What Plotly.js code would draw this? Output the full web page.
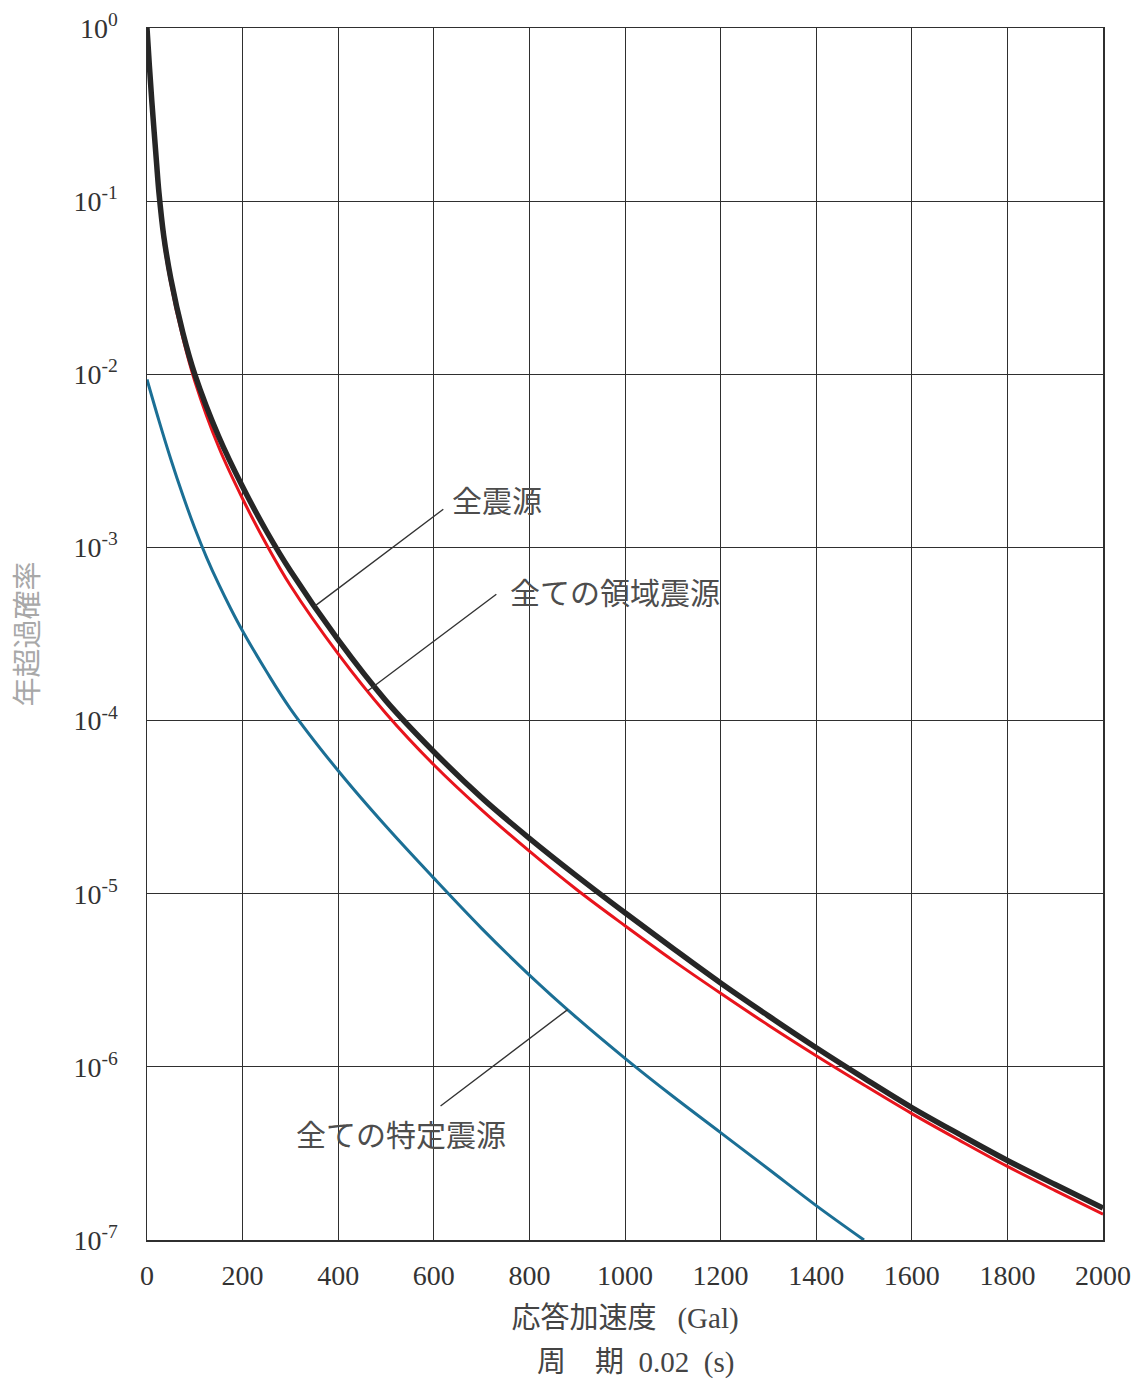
<!DOCTYPE html>
<html>
<head>
<meta charset="utf-8">
<script src="https://cdn.plot.ly/plotly-3.0.1.min.js"></script>
<style>
  html, body { margin: 0; padding: 0; background: #ffffff; }
  #chart { width: 1142px; height: 1385px; }
</style>
</head>
<body>
<div id="chart"></div>
<script>
// Annual exceedance probability vs. response acceleration (period 0.02 s)

// Acceleration (Gal) sample points
const accelAll = [0, 5, 10, 15, 20, 25, 35, 50, 75, 100, 150, 200, 250, 300, 400, 500,
  600, 700, 800, 900, 1000, 1100, 1200, 1300, 1400, 1500, 1600, 1700, 1800, 1900, 2000];

// 全震源 (all sources)
const probAll = [1.0, 0.603, 0.380, 0.251, 0.166, 0.112, 0.0631, 0.0355, 0.0174, 0.0100,
  4.37e-3, 2.24e-3, 1.24e-3, 7.33e-4, 2.92e-4, 1.30e-4, 6.61e-5, 3.59e-5, 2.09e-5,
  1.26e-5, 7.76e-6, 4.84e-6, 3.05e-6, 1.97e-6, 1.29e-6, 8.61e-7, 5.82e-7, 4.07e-7,
  2.88e-7, 2.09e-7, 1.53e-7];

// 全ての領域震源 (all areal sources)
const probAreal = [0.977, 0.582, 0.363, 0.240, 0.158, 0.106, 0.0589, 0.0331, 0.0162,
  9.12e-3, 3.80e-3, 1.91e-3, 1.04e-3, 6.03e-4, 2.43e-4, 1.10e-4, 5.56e-5, 3.05e-5,
  1.76e-5, 1.05e-5, 6.53e-6, 4.12e-6, 2.66e-6, 1.74e-6, 1.16e-6, 7.85e-7, 5.37e-7,
  3.76e-7, 2.66e-7, 1.93e-7, 1.41e-7];

// 全ての特定震源 (all specified sources)
const accelSpec = [0, 25, 50, 75, 100, 125, 150, 175, 200, 250, 300, 400, 500, 600, 700,
  800, 900, 1000, 1100, 1200, 1300, 1400, 1500];
const probSpec = [9.33e-3, 5.40e-3, 3.22e-3, 2.00e-3, 1.29e-3, 8.71e-4, 6.13e-4, 4.44e-4,
  3.29e-4, 1.92e-4, 1.17e-4, 5.13e-5, 2.45e-5, 1.23e-5, 6.31e-6, 3.39e-6, 1.91e-6,
  1.12e-6, 6.76e-7, 4.17e-7, 2.57e-7, 1.58e-7, 1.0e-7];

// Axis ticks
const xTicks = [0, 200, 400, 600, 800, 1000, 1200, 1400, 1600, 1800, 2000];
const yExponents = [0, -1, -2, -3, -4, -5, -6, -7];

const serif = '"Liberation Serif", "DejaVu Serif", serif';
const cjk = '"Noto Sans CJK JP", "Noto Sans", sans-serif';

// log-linear interpolation along a curve, used to pin leader lines onto it
function logAt(xs, ys, x) {
  for (let i = 0; i < xs.length - 1; i++) {
    if (x >= xs[i] && x <= xs[i + 1]) {
      const t = (x - xs[i]) / (xs[i + 1] - xs[i]);
      return Math.log10(ys[i]) * (1 - t) + Math.log10(ys[i + 1]) * t;
    }
  }
  return Math.log10(ys[ys.length - 1]);
}

const traces = [
  {
    x: accelSpec, y: probSpec, type: 'scatter', mode: 'lines', name: '全ての特定震源',
    line: { color: '#1b6f95', width: 3, shape: 'spline', smoothing: 1 }
  },
  {
    x: accelAll, y: probAreal, type: 'scatter', mode: 'lines', name: '全ての領域震源',
    line: { color: '#e8141c', width: 3, shape: 'spline', smoothing: 1 }
  },
  {
    x: accelAll, y: probAll, type: 'scatter', mode: 'lines', name: '全震源',
    line: { color: '#262626', width: 5.5, shape: 'spline', smoothing: 1 }
  }
];

// Leader lines from each curve to its label
function leader(xs, ys, xOn, xEnd, yEnd) {
  return {
    x: xOn, y: logAt(xs, ys, xOn), xref: 'x', yref: 'y',
    ax: xEnd, ay: yEnd, axref: 'x', ayref: 'y',
    text: '', showarrow: true, arrowhead: 0, arrowwidth: 1.4, arrowcolor: '#333333',
    standoff: 0, startstandoff: 0
  };
}
function label(text, x, y) {
  return {
    x: x, y: y, xref: 'x', yref: 'y', text: text, showarrow: false,
    xanchor: 'left', yanchor: 'middle',
    font: { family: cjk, size: 30, color: '#4d4d4d' }
  };
}

const annotations = [
  leader(accelAll, probAll, 351, 623, -2.773),
  label('全震源', 634, -2.72),
  leader(accelAll, probAreal, 462, 734, -3.264),
  label('全ての領域震源', 755, -3.25),
  leader(accelSpec, probSpec, 880, 611, -6.233),
  label('全ての特定震源', 308, -6.38),
  // second line of the x-axis caption: the spectral period
  {
    xref: 'paper', yref: 'paper', x: 0.511, y: -0.098,
    xanchor: 'center', yanchor: 'middle', showarrow: false,
    text: '周　期&#8194;<span style="font-family:Liberation Serif">0.02&#8194;(s)</span>',
    font: { family: cjk, size: 29, color: '#444444' }
  }
];

const gridColor = '#2f2f2f';

const layout = {
  width: 1142, height: 1385,
  margin: { l: 147, r: 39, t: 28, b: 145 },
  paper_bgcolor: '#ffffff', plot_bgcolor: '#ffffff',
  showlegend: false,
  xaxis: {
    range: [0, 2000], tickvals: xTicks, ticktext: xTicks.map(String),
    showgrid: true, gridcolor: gridColor, gridwidth: 1,
    showline: true, linecolor: gridColor, linewidth: 1.5, mirror: true,
    zeroline: false, ticks: '', ticklabelstandoff: 10,
    tickfont: { family: serif, size: 28, color: '#333333' },
    title: {
      text: '応答加速度 <span style="font-family:Liberation Serif">&#8194;(Gal)</span>',
      font: { family: cjk, size: 29, color: '#444444' },
      standoff: 17
    }
  },
  yaxis: {
    type: 'log', range: [-7, 0],
    tickvals: yExponents.map(e => Math.pow(10, e)),
    ticktext: yExponents.map(e => '10<sup>' + e + '</sup>'),
    showgrid: true, gridcolor: gridColor, gridwidth: 1,
    showline: true, linecolor: gridColor, linewidth: 1.5, mirror: true,
    zeroline: false, ticks: '', ticklabelstandoff: 22,
    tickfont: { family: serif, size: 28, color: '#333333' },
    title: {
      text: '年超過確率',
      font: { family: cjk, size: 29, color: '#a8a8a8' },
      standoff: 26
    }
  },
  annotations: annotations
};

Plotly.newPlot('chart', traces, layout, { staticPlot: true, displayModeBar: false });
</script>
</body>
</html>
